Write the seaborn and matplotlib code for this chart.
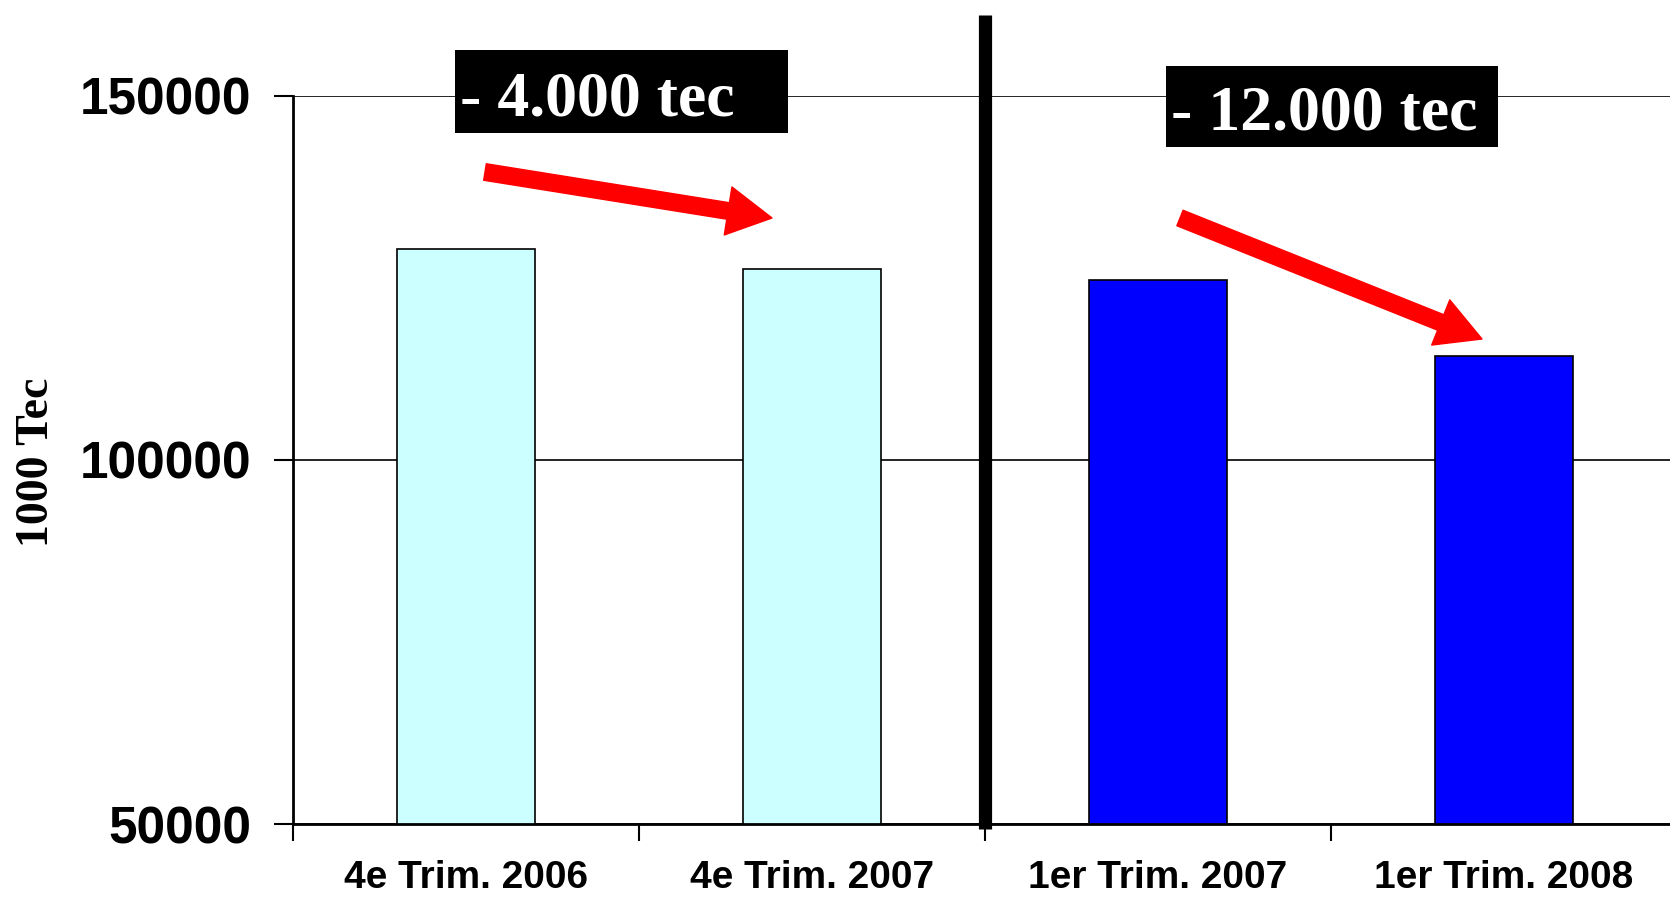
import matplotlib
matplotlib.use("Agg")
import matplotlib.pyplot as plt
import seaborn as sns
import pandas as pd
from matplotlib.patches import Rectangle

# Valeurs (1000 Tec)
trimestres = ["4e Trim. 2006", "4e Trim. 2007", "1er Trim. 2007", "1er Trim. 2008"]
valeurs = [129000, 126200, 124700, 114300]
couleurs = ["#CCFFFF", "#CCFFFF", "#0000FF", "#0000FF"]
graduations_y = [50000, 100000, 150000]
etiquettes_fleches = ["- 4.000 tec", "- 12.000 tec"]

W, H = 1670, 897

def fig_xy(x, y):
    # pixels (origine en haut a gauche) -> fraction de figure
    return x / W, 1 - y / H

sns.set_theme(style="white")
plt.rcParams["font.family"] = ["Liberation Sans", "DejaVu Sans"]
plt.rcParams["text.color"] = "black"
plt.rcParams["axes.labelcolor"] = "black"
plt.rcParams["xtick.color"] = "black"
plt.rcParams["ytick.color"] = "black"

base = pd.DataFrame({"trimestre": trimestres, "valeur": valeurs})

fig = plt.figure(figsize=(W / 100, H / 100), dpi=100)
ax = fig.add_axes([293 / W, 1 - 824 / H, 1384 / W, (824 - 96) / H])

sns.barplot(data=base, x="trimestre", y="valeur", hue="trimestre",
            palette=couleurs, saturation=1, width=0.4, edgecolor="black", linewidth=1.2,
            legend=False, ax=ax, zorder=2)

ax.set_ylim(50000, 150000)
ax.set_xlim(-0.5, 3.5)
ax.set_yticks(graduations_y)
ax.set_yticklabels([str(v) for v in graduations_y], fontsize=37, fontweight="bold")
ax.set_xticks(range(len(trimestres)))
ax.set_xticklabels(trimestres, fontsize=28, fontweight="bold")
ax.set_xticks([-0.5, 0.5, 1.5, 2.5, 3.5], minor=True)
ax.tick_params(axis="x", which="major", length=0, pad=26)
ax.tick_params(axis="x", which="minor", length=12, width=1.5, color="black", direction="out", bottom=True)
ax.tick_params(axis="y", length=14, width=1.5, color="black", direction="out", left=True, pad=16)

ax.yaxis.grid(True, color="black", linewidth=1.2, zorder=0)
ax.set_axisbelow(True)
for s in ["top", "right"]:
    ax.spines[s].set_visible(False)
for s in ["left", "bottom"]:
    ax.spines[s].set_color("black")
    ax.spines[s].set_linewidth(2)

ax.set_xlabel("")
ax.set_ylabel("1000 Tec", fontsize=33, fontweight="bold", family="Liberation Serif")
ax.yaxis.set_label_coords((37 - 293) / 1384, (824 - 462) / 728)
ax.yaxis.label.set_va("center")

# ligne verticale de separation
ax.axvline(1.5, ymin=-5 / 728, ymax=(824 - 15) / 728, color="black", linewidth=9.5,
           solid_capstyle="butt", clip_on=False, zorder=5)

# encadres noirs
boites = [(455, 50, 788, 133), (1166, 66, 1498, 147)]
positions_txt = [(460, 100), (1171, 114)]
for (x0, y0, x1, y1), (tx, ty), lab in zip(boites, positions_txt, etiquettes_fleches):
    bx, by = fig_xy(x0, y1)
    fig.add_artist(Rectangle((bx, by), (x1 - x0) / W, (y1 - y0) / H,
                             transform=fig.transFigure, facecolor="black", edgecolor="none", zorder=6))
    fx, fy = fig_xy(tx, ty)
    fig.text(fx, fy, lab, color="white", fontsize=46, fontweight="bold",
             family="Liberation Serif", ha="left", va="center", zorder=7)

# fleches rouges
fleches = [((485, 172), (772, 218)), ((1180, 218), (1482, 339))]
for (xa, ya), (xb, yb) in fleches:
    ax.annotate("", xy=(xb, H - yb), xytext=(xa, H - ya), xycoords="figure pixels",
                textcoords="figure pixels",
                arrowprops=dict(arrowstyle="simple,head_length=1.6,head_width=1.75,tail_width=0.6",
                                mutation_scale=20, color="red", shrinkA=0, shrinkB=0),
                zorder=8)

fig.savefig("out.png", dpi=100)
